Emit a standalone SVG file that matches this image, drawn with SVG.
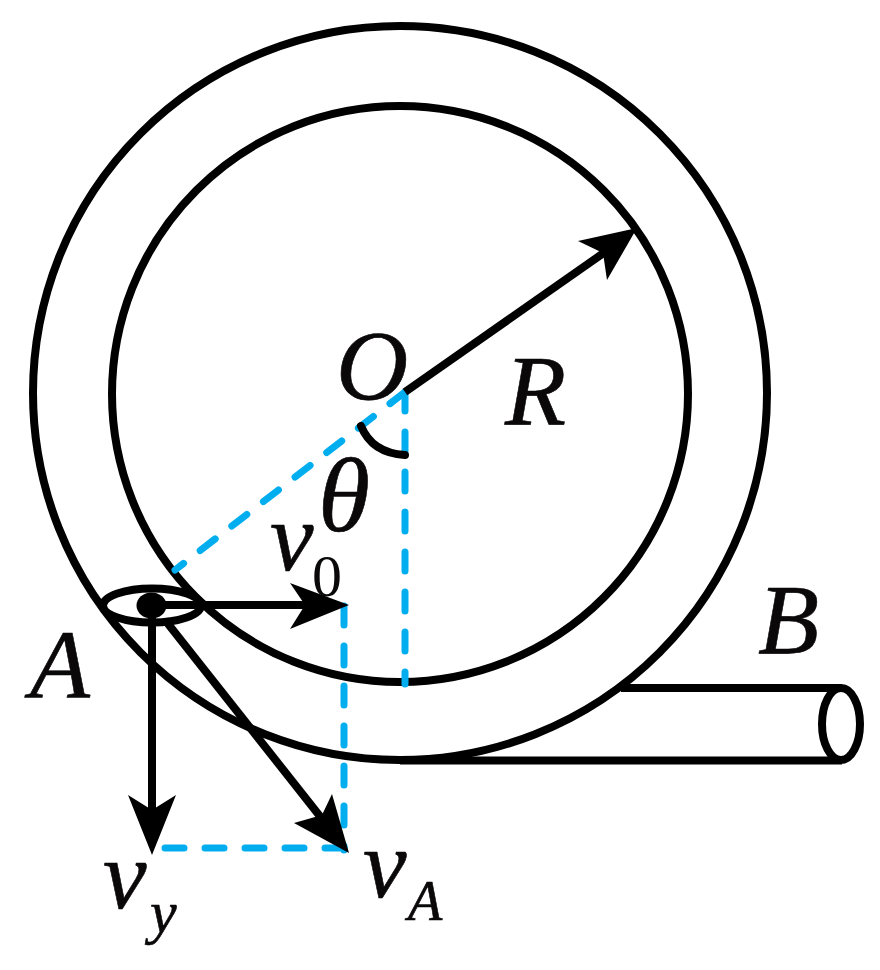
<svg xmlns="http://www.w3.org/2000/svg" width="880" height="970" viewBox="0 0 880 970">
<style>
.k{fill:none;stroke:#000;stroke-width:8}
.b{fill:none;stroke:#00AEEF;stroke-width:7;stroke-linecap:round;stroke-dasharray:19 21}
.h{fill:#000;stroke:none}
.t{font-family:"Liberation Serif","Times New Roman",serif;font-style:italic;fill:#0a0808;stroke:#0a0808;stroke-width:.6}
</style>
<rect width="880" height="970" fill="#fff"/>
<g id="tube">
<circle class="k" cx="400" cy="393" r="367"/>
<circle class="k" cx="400" cy="394" r="288"/>
<path class="k" d="M621,688H842M400,760.500H842"/>
<ellipse class="k" cx="841" cy="724" rx="19" ry="36"/>
</g>
<g id="guides">
<path class="b" d="M405,392L175,570"/>
<path class="b" d="M405,392V684"/>
<path class="b" d="M344,606V850"/>
<path class="b" d="M165,848H345"/>
</g>
<g id="connectors">
<path class="k" d="M405,392L615,245"/>
<path class="h" d="M637,228L578,241L603,253L607,280Z"/>
<path class="k" d="M152,605H315"/>
<path class="h" d="M349,605L290,583L305,605L290,629Z"/>
<path class="k" d="M152,605V815"/>
<path class="h" d="M152,855L128,795L152,810L176,795Z"/>
<path class="k" d="M165,620L330,829"/>
<path class="h" d="M349,853L332,794L322,815L294,823Z"/>
<path class="k" style="stroke-linecap:round" d="M361,426Q372,453 405,455"/>
</g>
<g id="bead-A">
<ellipse class="k" cx="152" cy="605.500" rx="49" ry="17"/>
<ellipse class="h" cx="151.500" cy="605.500" rx="15" ry="13"/>
<text class="t" x="30" y="697" font-size="98">A</text>
</g>
<g id="labels">
<text class="t" x="336" y="399" font-size="100">O</text>
<text class="t" x="505" y="424" font-size="100">R</text>
<text class="t" x="758" y="653" font-size="100">B</text>
<text class="t" x="318" y="531" font-size="106">θ</text>
<text class="t" x="270" y="570" font-size="98">v</text>
<text x="312" y="596" font-size="60" font-family="'Liberation Serif',serif" fill="#0a0808">0</text>
<text class="t" x="103" y="908" font-size="98">v</text>
<text class="t" x="150" y="932" font-size="60">y</text>
<text class="t" x="363" y="897" font-size="98">v</text>
<text class="t" x="408" y="920" font-size="56">A</text>
</g>
</svg>
